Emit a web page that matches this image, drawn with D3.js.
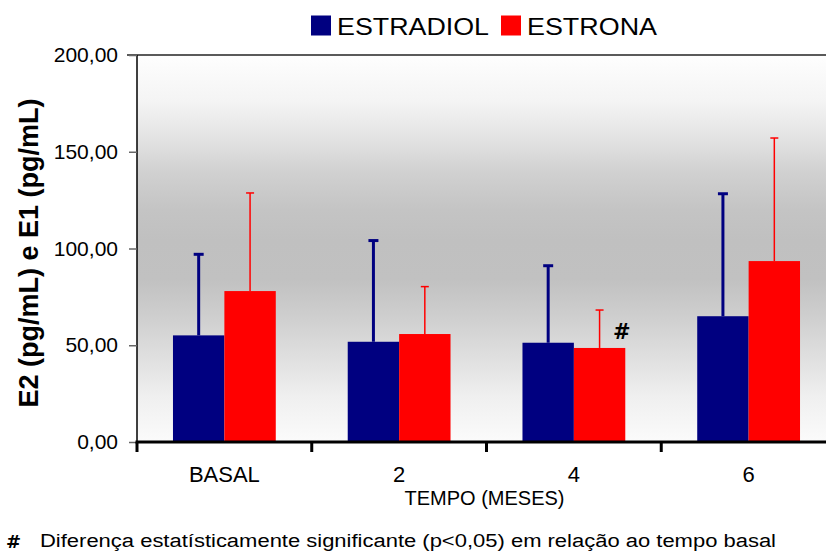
<!DOCTYPE html>
<html>
<head>
<meta charset="utf-8">
<script src="https://cdn.jsdelivr.net/npm/d3@7"></script>
<style>
  html, body { margin: 0; padding: 0; background: #fff; }
  svg { display: block; font-family: "Liberation Sans", Arial, sans-serif; }
  svg text { font-family: "Liberation Sans", Arial, sans-serif; }
  svg text.mark { font-family: "DejaVu Sans", sans-serif; font-weight: bold; }
</style>
</head>
<body>
<svg id="chart" width="826" height="557"></svg>
<script>
// Time points (months) and the two hormone series
const categories = ["BASAL", "2", "4", "6"];
const seriesNames = ["ESTRADIOL", "ESTRONA"];
const estradiol = [55.1, 51.8, 51.3, 65.0];
const estradiolSD = [41.9, 52.3, 39.8, 63.3];
const estrona = [78.0, 55.8, 48.6, 93.5];
const estronaSD = [50.7, 24.5, 19.6, 63.6];
const yTicks = [0, 50, 100, 150, 200];
const significant = [false, false, true, false]; // estrona vs basal

const FONT = "'Liberation Sans', Arial, sans-serif";
const colors = { ESTRADIOL: "#000080", ESTRONA: "#ff0000" };
const seriesData = {
  ESTRADIOL: { mean: estradiol, sd: estradiolSD },
  ESTRONA: { mean: estrona, sd: estronaSD }
};

const svg = d3.select("#chart");
const W = 826;
const plot = { left: 137, top: 55, bottom: 442, right: 836 };

const y = d3.scaleLinear().domain([0, 200]).range([plot.bottom, plot.top]);
const x0 = d3.scaleBand().domain(categories).range([plot.left, plot.right]).padding(0);
const x1 = d3.scaleBand().domain(seriesNames).range([0, x0.bandwidth()])
  .paddingInner(0).paddingOuter(0.7);

// Plot background: grey band fading to white at top and bottom
const defs = svg.append("defs");
const grad = defs.append("linearGradient").attr("id", "bg")
  .attr("x1", 0).attr("y1", 0).attr("x2", 0).attr("y2", 1);
[[0, "#fefefe"], [0.12, "#f4f4f4"], [0.22, "#e2e2e2"], [0.3, "#d1d1d1"],
 [0.4, "#c4c4c4"], [0.48, "#c0c0c0"], [0.58, "#c1c1c1"], [0.68, "#cfcfcf"],
 [0.78, "#dfdfdf"], [0.88, "#efefef"], [1, "#fbfbfb"]]
  .forEach(([o, c]) => grad.append("stop").attr("offset", o).attr("stop-color", c));

svg.append("rect")
  .attr("x", plot.left).attr("y", plot.top)
  .attr("width", W - plot.left).attr("height", plot.bottom - plot.top)
  .attr("fill", "url(#bg)");

// Top frame line
svg.append("line")
  .attr("x1", 127).attr("x2", W).attr("y1", plot.top).attr("y2", plot.top)
  .attr("stroke", "#5a5a5a").attr("stroke-width", 2);

// Bars
const groups = svg.append("g").selectAll("g")
  .data(categories).join("g")
  .attr("transform", d => `translate(${x0(d)},0)`);

seriesNames.forEach(name => {
  groups.append("rect")
    .attr("x", x1(name))
    .attr("width", x1.bandwidth())
    .attr("y", (d, i) => y(seriesData[name].mean[i]))
    .attr("height", (d, i) => y(0) - y(seriesData[name].mean[i]))
    .attr("fill", colors[name]);
});

// Upper error bars
const errStyle = {
  ESTRADIOL: { w: 3, cap: 10 },
  ESTRONA: { w: 1.5, cap: 8 }
};
seriesNames.forEach(name => {
  const s = errStyle[name];
  const cx = x1(name) + x1.bandwidth() / 2;
  groups.append("line")
    .attr("x1", cx).attr("x2", cx)
    .attr("y1", (d, i) => y(seriesData[name].mean[i]))
    .attr("y2", (d, i) => y(seriesData[name].mean[i] + seriesData[name].sd[i]))
    .attr("stroke", colors[name]).attr("stroke-width", s.w);
  groups.append("line")
    .attr("x1", cx - s.cap / 2).attr("x2", cx + s.cap / 2)
    .attr("y1", (d, i) => y(seriesData[name].mean[i] + seriesData[name].sd[i]))
    .attr("y2", (d, i) => y(seriesData[name].mean[i] + seriesData[name].sd[i]))
    .attr("stroke", colors[name]).attr("stroke-width", s.w);
});

// Significance marker
groups.filter((d, i) => significant[i])
  .append("text")
  .attr("class", "mark")
  .attr("x", x1("ESTRONA") + x1.bandwidth() - 3.5)
  .attr("y", d => y(seriesData.ESTRONA.mean[categories.indexOf(d)]) - 9)
  .attr("text-anchor", "middle")
  .attr("font-size", 21)
  .text("#");

// Y axis
const yAxis = svg.append("g")
  .attr("transform", `translate(${plot.left},0)`)
  .call(d3.axisLeft(y).tickValues(yTicks).tickSize(8).tickPadding(11)
    .tickFormat(d => d3.format(".2f")(d).replace(".", ",")));
yAxis.select(".domain").attr("stroke", "#000").attr("stroke-width", 1.5)
  .attr("d", `M0,${plot.top}V${plot.bottom}`);
yAxis.selectAll(".tick line").attr("stroke", "#666").attr("stroke-width", 1.5);
yAxis.selectAll(".tick text").attr("font-size", 21).attr("fill", "#000")
  .attr("font-family", FONT);

// X axis
const xAxis = svg.append("g")
  .attr("transform", `translate(0,${plot.bottom})`)
  .call(d3.axisBottom(x0).tickSize(0).tickPadding(24));
xAxis.select(".domain").remove();
xAxis.selectAll(".tick text").attr("font-size", 22).attr("fill", "#000")
  .attr("font-family", FONT);

svg.append("line")
  .attr("x1", plot.left - 1.5).attr("x2", W)
  .attr("y1", plot.bottom).attr("y2", plot.bottom)
  .attr("stroke", "#000").attr("stroke-width", 3);
svg.append("g").selectAll("line")
  .data(categories).join("line")
  .attr("x1", d => x0(d)).attr("x2", d => x0(d))
  .attr("y1", plot.bottom).attr("y2", plot.bottom + 10)
  .attr("stroke", "#000").attr("stroke-width", 3);

// Axis titles
svg.append("text")
  .attr("x", (plot.left + plot.right) / 2 - 2).attr("y", 505)
  .attr("text-anchor", "middle").attr("font-size", 20).attr("font-family", FONT)
  .text("TEMPO (MESES)");

svg.append("text")
  .attr("transform", "translate(38,253) rotate(-90)")
  .attr("text-anchor", "middle").attr("font-size", 27).attr("font-weight", "bold")
  .attr("font-family", FONT)
  .text("E2 (pg/mL) e E1 (pg/mL)");

// Legend
const legend = [
  { name: "ESTRADIOL", sx: 311, tx: 337, len: 152 },
  { name: "ESTRONA", sx: 501, tx: 527, len: 130 }
];
legend.forEach(l => {
  svg.append("rect").attr("x", l.sx).attr("y", 15.5).attr("width", 20).attr("height", 20)
    .attr("fill", colors[l.name]);
  svg.append("text").attr("x", l.tx).attr("y", 35).attr("font-size", 24)
    .attr("font-family", FONT)
    .attr("textLength", l.len).attr("lengthAdjust", "spacingAndGlyphs")
    .text(l.name);
});

// Footnote
svg.append("text").attr("class", "mark").attr("x", 6).attr("y", 548)
  .attr("font-size", 18).text("#");
svg.append("text").attr("x", 40).attr("y", 547).attr("font-size", 18)
  .attr("font-family", FONT)
  .attr("textLength", 736).attr("lengthAdjust", "spacingAndGlyphs")
  .text("Diferença estatísticamente significante (p<0,05) em relação ao tempo basal");
</script>
</body>
</html>
